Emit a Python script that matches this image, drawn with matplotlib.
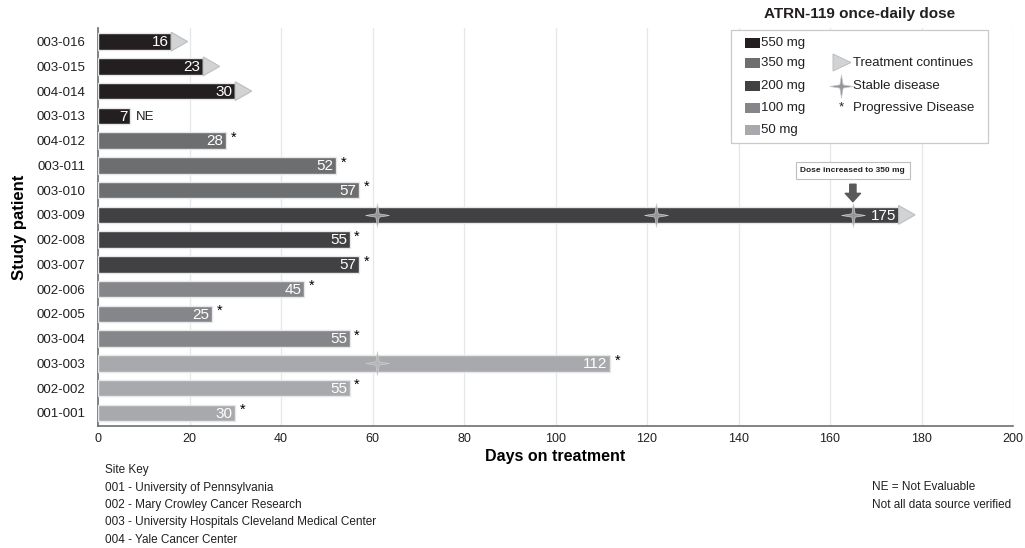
import matplotlib
matplotlib.use("Agg")
import matplotlib.pyplot as plt
from matplotlib.path import Path
from matplotlib.patches import Polygon, Rectangle
import numpy as np

plt.rcParams['font.family'] = ['Liberation Sans', 'DejaVu Sans']

# ---- data (top to bottom) ----
patients = ["003-016", "003-015", "004-014", "003-013", "004-012", "003-011", "003-010",
            "003-009", "002-008", "003-007", "002-006", "002-005", "003-004", "003-003",
            "002-002", "001-001"]
days = [16, 23, 30, 7, 28, 52, 57, 175, 55, 57, 45, 25, 55, 112, 55, 30]
doses = ["550 mg", "550 mg", "550 mg", "550 mg", "350 mg", "350 mg", "350 mg",
         "200 mg", "200 mg", "200 mg", "100 mg", "100 mg", "100 mg", "50 mg", "50 mg", "50 mg"]
status = ["cont", "cont", "cont", "NE", "PD", "PD", "PD", "cont", "PD", "PD", "PD", "PD",
          "PD", "PD", "PD", "PD"]
stable_points = {"003-009": [61, 122, 165], "003-003": [61]}
dose_levels = ["550 mg", "350 mg", "200 mg", "100 mg", "50 mg"]
dose_colors = {"550 mg": "#231f20", "350 mg": "#6d6e70", "200 mg": "#414042",
               "100 mg": "#858689", "50 mg": "#a7a9ac"}
x_ticks = [0, 20, 40, 60, 80, 100, 120, 140, 160, 180, 200]
dose_change_day = 165
site_key = ["Site Key", "001 - University of Pennsylvania", "002 - Mary Crowley Cancer Research",
            "003 - University Hospitals Cleveland Medical Center", "004 - Yale Cancer Center"]
notes = ["NE = Not Evaluable", "Not all data source verified"]

W, H = 1025, 548
fig = plt.figure(figsize=(W / 100, H / 100), dpi=100)
ax = fig.add_axes([98 / W, 1 - 426 / H, (1013 - 98) / W, (426 - 28) / H])

n = len(patients)
ypos = np.arange(n)[::-1]

a = 0.14
star = Path([(0, 1), (a, a), (1, 0), (a, -a), (0, -1), (-a, -a), (-1, 0), (-a, a), (0, 1)],
            [Path.MOVETO] + [Path.LINETO] * 7 + [Path.CLOSEPOLY])

bh = 0.66
for p, v, d, s, y in zip(patients, days, doses, status, ypos):
    ax.barh(y, v, height=bh, color=dose_colors[d], edgecolor="#e6e7e8", linewidth=1.0, zorder=3)
    ax.text(v - 0.6, y - 0.03, str(v), ha="right", va="center", color="white", fontsize=11, zorder=6)
    if s == "cont":
        tri = Polygon([(v, y - 0.38), (v, y + 0.38), (v + 3.6, y)], closed=True,
                      facecolor="#d1d3d4", edgecolor="#bcbec0", linewidth=0.8, zorder=4)
        ax.add_patch(tri)
    elif s == "PD":
        ax.text(v + 1.0, y + 0.12, "*", ha="left", va="center", fontsize=10.5, color="black", zorder=6)
    elif s == "NE":
        ax.text(v + 1.3, y - 0.03, "NE", ha="left", va="center", fontsize=9.5, color="#231f20", zorder=6)
    for sp in stable_points.get(p, []):
        col = "#939598" if d != "50 mg" else "#b5b7ba"
        ax.plot([sp], [y], marker=star, markersize=17, color=col, markeredgecolor="#c9cacc",
                markeredgewidth=0.5, linestyle="none", zorder=5)

ax.set_xlim(0, 200)
ax.set_ylim(-0.53, n - 0.45)
ax.set_yticks(ypos)
ax.set_yticklabels(patients, fontsize=9.5)
ax.set_xticks(x_ticks)
ax.set_xticklabels([str(t) for t in x_ticks], fontsize=9)
ax.tick_params(axis="both", length=0, pad=5, colors="#231f20")
ax.tick_params(axis="y", pad=9)
ax.grid(axis="x", color="#e6e7e8", linewidth=0.9, zorder=0)
ax.set_axisbelow(True)
for side in ["top", "right"]:
    ax.spines[side].set_visible(False)
for side in ["left", "bottom"]:
    ax.spines[side].set_color("#6d6e70")
    ax.spines[side].set_linewidth(1.2)
ax.set_xlabel("Days on treatment", fontsize=11.5, fontweight="bold", labelpad=3)
ax.set_ylabel("Study patient", fontsize=12, fontweight="bold", labelpad=7)

# dose-change annotation
y9 = ypos[patients.index("003-009")]
ax.annotate("", xy=(dose_change_day, y9 + 0.42), xytext=(dose_change_day, y9 + 1.35),
            arrowprops=dict(arrowstyle="simple,head_width=1.1,head_length=0.6,tail_width=0.45",
                            color="#58595b"), zorder=7)
ax.text(dose_change_day, y9 + 1.8, "Dose increased to 350 mg", ha="center", va="center",
        fontsize=6, fontweight="bold", color="#231f20", zorder=7,
        bbox=dict(boxstyle="square,pad=0.6", facecolor="white", edgecolor="#bcbec0", linewidth=0.8))

# legend drawn in figure pixel coords
def fx(px):
    return px / W

def fy(py):
    return 1 - py / H

fig.text(fx(860), fy(14), "ATRN-119 once-daily dose", ha="center", va="center",
         fontsize=11, fontweight="bold", color="#231f20")
fig.patches.append(Rectangle((fx(731), fy(143)), fx(988) - fx(731), fy(30) - fy(143),
                             transform=fig.transFigure, facecolor="white",
                             edgecolor="#c9cacc", linewidth=0.9, zorder=10))
rows_y = [43, 63, 86, 108, 130]
for lvl, ry in zip(dose_levels, rows_y):
    fig.patches.append(Rectangle((fx(745), fy(ry + 5)), fx(760) - fx(745), fy(ry - 5) - fy(ry + 5),
                                 transform=fig.transFigure, facecolor=dose_colors[lvl],
                                 edgecolor="none", zorder=11))
    fig.text(fx(761), fy(ry), lvl, ha="left", va="center", fontsize=9.5, color="#231f20", zorder=12)
fig.patches.append(Polygon([(fx(833), fy(71)), (fx(833), fy(54)), (fx(851), fy(62.5))], closed=True,
                           transform=fig.transFigure, facecolor="#d1d3d4", edgecolor="#bcbec0",
                           linewidth=0.7, zorder=11))
fig.text(fx(853), fy(63), "Treatment continues", ha="left", va="center", fontsize=9.5, color="#231f20", zorder=12)
fig.lines.append(plt.Line2D([fx(841)], [fy(86)], marker=star, markersize=17, color="#939598",
                            markeredgecolor="#c9cacc", markeredgewidth=0.5,
                            transform=fig.transFigure, zorder=12))
fig.text(fx(853), fy(86), "Stable disease", ha="left", va="center", fontsize=9.5, color="#231f20", zorder=12)
fig.text(fx(841), fy(107), "*", ha="center", va="center", fontsize=9.5, color="#231f20", zorder=12)
fig.text(fx(853), fy(108), "Progressive Disease", ha="left", va="center", fontsize=9.5, color="#231f20", zorder=12)

# footnotes
for i, line in enumerate(site_key):
    fig.text(fx(105), fy(470 + i * 17.5), line, ha="left", va="center", fontsize=8.5,
             color="#231f20")
for i, line in enumerate(notes):
    fig.text(fx(872), fy(487.5 + i * 17.5), line, ha="left", va="center", fontsize=8.5,
             color="#231f20")

fig.savefig("out.png", dpi=100, facecolor="white")
